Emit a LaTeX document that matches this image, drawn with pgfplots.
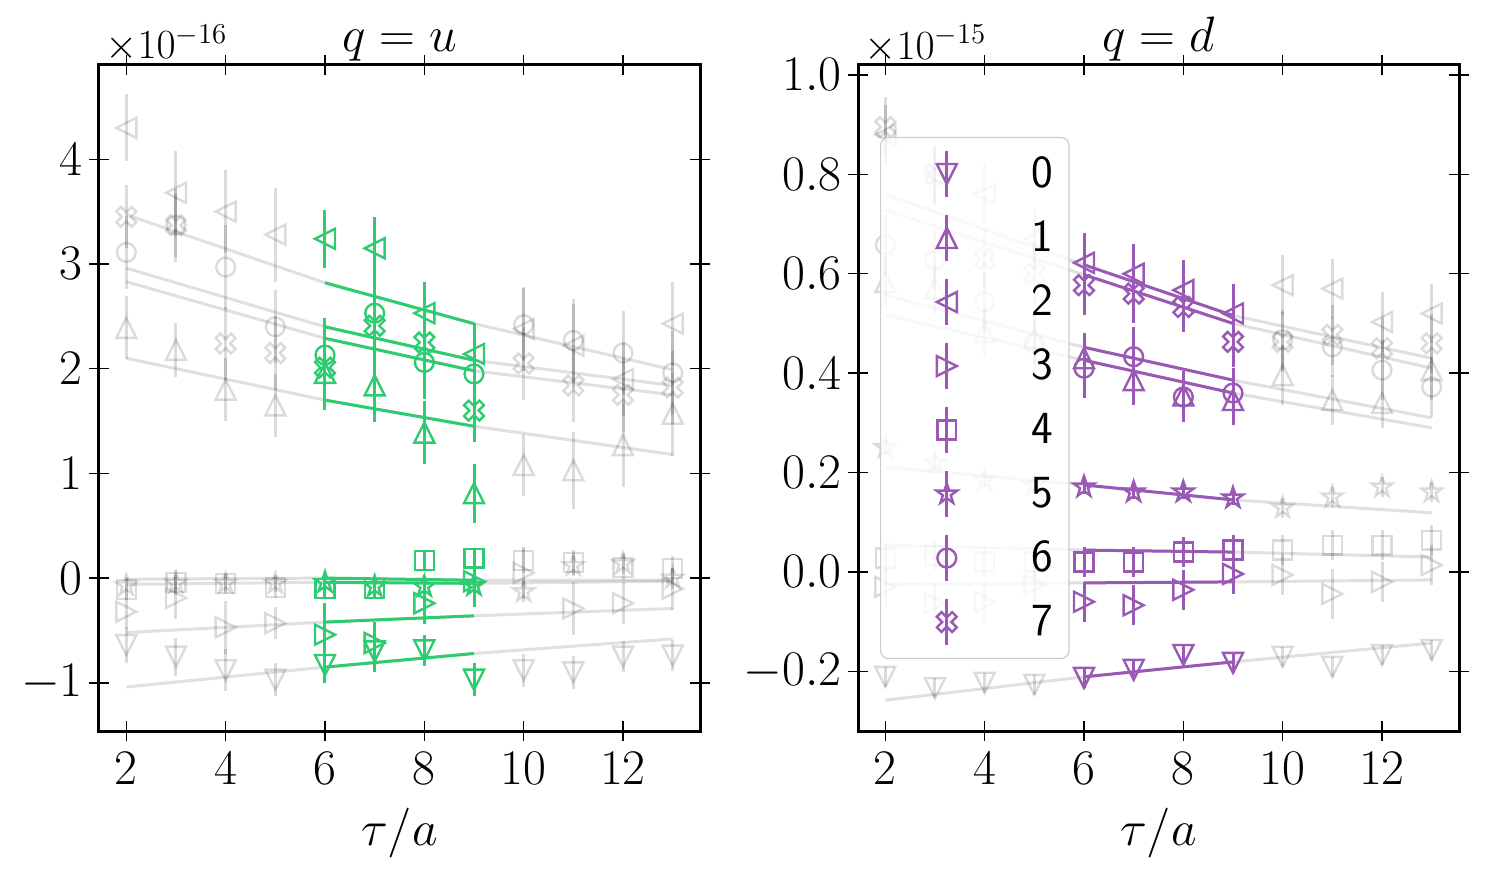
\documentclass[border=0pt]{standalone}
\usepackage{pgfplots}
\pgfplotsset{compat=1.18}
\definecolor{grn}{RGB}{46,204,113}
\definecolor{prp}{RGB}{155,89,182}
\pgfdeclareplotmark{tU}{\pgfpathmoveto{\pgfqpoint{0pt}{\pgfplotmarksize}}\pgfpathlineto{\pgfqpoint{-\pgfplotmarksize}{-\pgfplotmarksize}}\pgfpathlineto{\pgfqpoint{\pgfplotmarksize}{-\pgfplotmarksize}}\pgfpathclose\pgfusepathqstroke}
\pgfdeclareplotmark{tD}{\pgfpathmoveto{\pgfqpoint{0pt}{-\pgfplotmarksize}}\pgfpathlineto{\pgfqpoint{-\pgfplotmarksize}{\pgfplotmarksize}}\pgfpathlineto{\pgfqpoint{\pgfplotmarksize}{\pgfplotmarksize}}\pgfpathclose\pgfusepathqstroke}
\pgfdeclareplotmark{tL}{\pgfpathmoveto{\pgfqpoint{-\pgfplotmarksize}{0pt}}\pgfpathlineto{\pgfqpoint{\pgfplotmarksize}{\pgfplotmarksize}}\pgfpathlineto{\pgfqpoint{\pgfplotmarksize}{-\pgfplotmarksize}}\pgfpathclose\pgfusepathqstroke}
\pgfdeclareplotmark{tR}{\pgfpathmoveto{\pgfqpoint{\pgfplotmarksize}{0pt}}\pgfpathlineto{\pgfqpoint{-\pgfplotmarksize}{\pgfplotmarksize}}\pgfpathlineto{\pgfqpoint{-\pgfplotmarksize}{-\pgfplotmarksize}}\pgfpathclose\pgfusepathqstroke}
\pgfdeclareplotmark{Xo}{%
\pgfpathmoveto{\pgfqpoint{0pt}{0.424\pgfplotmarksize}}%
\pgfpathlineto{\pgfqpoint{-0.495\pgfplotmarksize}{0.919\pgfplotmarksize}}%
\pgfpathlineto{\pgfqpoint{-0.919\pgfplotmarksize}{0.495\pgfplotmarksize}}%
\pgfpathlineto{\pgfqpoint{-0.424\pgfplotmarksize}{0pt}}%
\pgfpathlineto{\pgfqpoint{-0.919\pgfplotmarksize}{-0.495\pgfplotmarksize}}%
\pgfpathlineto{\pgfqpoint{-0.495\pgfplotmarksize}{-0.919\pgfplotmarksize}}%
\pgfpathlineto{\pgfqpoint{0pt}{-0.424\pgfplotmarksize}}%
\pgfpathlineto{\pgfqpoint{0.495\pgfplotmarksize}{-0.919\pgfplotmarksize}}%
\pgfpathlineto{\pgfqpoint{0.919\pgfplotmarksize}{-0.495\pgfplotmarksize}}%
\pgfpathlineto{\pgfqpoint{0.424\pgfplotmarksize}{0pt}}%
\pgfpathlineto{\pgfqpoint{0.919\pgfplotmarksize}{0.495\pgfplotmarksize}}%
\pgfpathlineto{\pgfqpoint{0.495\pgfplotmarksize}{0.919\pgfplotmarksize}}%
\pgfpathclose\pgfusepathqstroke}
\pgfdeclareplotmark{St}{%
\pgfpathmoveto{\pgfqpoint{0pt}{\pgfplotmarksize}}%
\pgfpathlineto{\pgfqpoint{-0.2245\pgfplotmarksize}{0.309\pgfplotmarksize}}%
\pgfpathlineto{\pgfqpoint{-0.951\pgfplotmarksize}{0.309\pgfplotmarksize}}%
\pgfpathlineto{\pgfqpoint{-0.363\pgfplotmarksize}{-0.118\pgfplotmarksize}}%
\pgfpathlineto{\pgfqpoint{-0.588\pgfplotmarksize}{-0.809\pgfplotmarksize}}%
\pgfpathlineto{\pgfqpoint{0pt}{-0.382\pgfplotmarksize}}%
\pgfpathlineto{\pgfqpoint{0.588\pgfplotmarksize}{-0.809\pgfplotmarksize}}%
\pgfpathlineto{\pgfqpoint{0.363\pgfplotmarksize}{-0.118\pgfplotmarksize}}%
\pgfpathlineto{\pgfqpoint{0.951\pgfplotmarksize}{0.309\pgfplotmarksize}}%
\pgfpathlineto{\pgfqpoint{0.2245\pgfplotmarksize}{0.309\pgfplotmarksize}}%
\pgfpathclose\pgfusepathqstroke}
\newcommand{\bigf}{\fontsize{25}{29}\selectfont}
\newcommand{\labf}{\fontsize{26}{30}\selectfont}
\newcommand{\midf}{\fontsize{22.5}{26}\selectfont}
\newcommand{\titf}{\fontsize{27.5}{32}\selectfont}
\newcommand{\legf}{\fontsize{23}{27}\selectfont}
\pgfplotsset{
  base/.style={scale only axis, width=300.5pt, height=333pt, xmin=1.45, xmax=13.55,
    xtick={2,4,...,12}, tick align=center, major tick length=10pt,
    every tick/.style={line width=0.7pt, black},
    axis line style={line width=1.5pt},
    tick label style={font=\bigf, inner sep=0pt},
    xticklabel style={anchor=north, yshift=-5.5pt},
    yticklabel style={anchor=east, xshift=-3pt},
    scaled ticks=false, clip mode=individual},
  m0/.style={mark=tD, mark size=5pt}, m1/.style={mark=tU, mark size=5pt},
  m2/.style={mark=tL, mark size=5pt}, m3/.style={mark=tR, mark size=5pt},
  m4/.style={mark=square, mark size=4.7pt}, m5/.style={mark=St, mark size=5.4pt},
  m6/.style={mark=o, mark size=4.7pt}, m7/.style={mark=Xo, mark size=5.4pt},
  gpt/.style={forget plot, only marks, black, opacity=0.14, line width=1.2pt,
    error bars/y dir=both, error bars/y explicit, error bars/error mark=none,
    error bars/error bar style={line width=1.5pt, black, opacity=0.14}},
  gln/.style={forget plot, no marks, black, opacity=0.12, line width=1.5pt},
  cpt/.style={only marks, line width=1.2pt,
    error bars/y dir=both, error bars/y explicit, error bars/error mark=none,
    error bars/error bar style={line width=1.5pt}},
  cln/.style={forget plot, no marks, line width=1.5pt},
}
\begin{document}
\begin{tikzpicture}
\useasboundingbox (0,0) rectangle (742.5pt,437.5pt);
% ===================== LEFT: q = u =====================
\begin{axis}[base, at={(49.5pt,72pt)}, anchor=south west,
  ymin=-1.46, ymax=4.9, ytick={-1,0,1,2,3,4}]
% gray fit lines
\addplot[gln] coordinates {(2,-1.04) (6,-0.85) (9,-0.72) (13,-0.58)};
\addplot[gln] coordinates {(2,2.10) (6,1.70) (9,1.45) (13,1.18)};
\addplot[gln] coordinates {(2,3.47) (6,2.82) (9,2.43) (13,1.99)};
\addplot[gln] coordinates {(2,-0.52) (6,-0.42) (9,-0.36) (13,-0.29)};
\addplot[gln] coordinates {(2,-0.06) (6,-0.04) (9,-0.05) (13,-0.03)};
\addplot[gln] coordinates {(2,-0.01) (6,0.00) (9,-0.02) (13,-0.02)};
\addplot[gln] coordinates {(2,2.96) (6,2.40) (9,2.08) (13,1.84)};
\addplot[gln] coordinates {(2,2.83) (6,2.29) (9,1.98) (13,1.75)};
% gray points
\addplot[gpt,m0] coordinates {(2,-0.64)+-(0,0.17) (3,-0.75)+-(0,0.18) (4,-0.88)+-(0,0.2) (5,-0.97)+-(0,0.16) (10,-0.88)+-(0,0.16) (11,-0.90)+-(0,0.16) (12,-0.75)+-(0,0.15) (13,-0.74)+-(0,0.15)};
\addplot[gpt,m1] coordinates {(2,2.39)+-(0,0.3) (3,2.18)+-(0,0.26) (4,1.80)+-(0,0.3) (5,1.65)+-(0,0.3) (10,1.08)+-(0,0.3) (11,1.03)+-(0,0.37) (12,1.27)+-(0,0.4) (13,1.57)+-(0,0.4)};
\addplot[gpt,m2] coordinates {(2,4.30)+-(0,0.32) (3,3.68)+-(0,0.4) (4,3.50)+-(0,0.4) (5,3.28)+-(0,0.45) (10,2.38)+-(0,0.4) (11,2.22)+-(0,0.4) (12,1.90)+-(0,0.35) (13,2.43)+-(0,0.4)};
\addplot[gpt,m3] coordinates {(2,-0.32)+-(0,0.17) (3,-0.19)+-(0,0.2) (4,-0.47)+-(0,0.25) (5,-0.43)+-(0,0.15) (10,0.05)+-(0,0.25) (11,-0.29)+-(0,0.25) (12,-0.24)+-(0,0.2) (13,-0.10)+-(0,0.2)};
\addplot[gpt,m4] coordinates {(2,-0.11)+-(0,0.1) (3,-0.04)+-(0,0.12) (4,-0.05)+-(0,0.1) (5,-0.09)+-(0,0.1) (10,0.17)+-(0,0.12) (11,0.15)+-(0,0.12) (12,0.10)+-(0,0.12) (13,0.09)+-(0,0.12)};
\addplot[gpt,m5] coordinates {(2,-0.07)+-(0,0.08) (3,-0.05)+-(0,0.08) (4,-0.05)+-(0,0.08) (5,-0.05)+-(0,0.08) (10,-0.13)+-(0,0.1) (11,0.12)+-(0,0.1) (12,0.14)+-(0,0.1) (13,0.0)+-(0,0.1)};
\addplot[gpt,m6] coordinates {(2,3.11)+-(0,0.35) (3,3.37)+-(0,0.35) (4,2.97)+-(0,0.4) (5,2.40)+-(0,0.35) (10,2.42)+-(0,0.35) (11,2.27)+-(0,0.4) (12,2.15)+-(0,0.4) (13,1.96)+-(0,0.4)};
\addplot[gpt,m7] coordinates {(2,3.45)+-(0,0.3) (3,3.37)+-(0,0.3) (4,2.24)+-(0,0.35) (5,2.15)+-(0,0.35) (10,2.05)+-(0,0.35) (11,1.84)+-(0,0.35) (12,1.75)+-(0,0.35) (13,1.82)+-(0,0.35)};
% green fit lines
\addplot[cln,grn] coordinates {(6,-0.85) (9,-0.72)};
\addplot[cln,grn] coordinates {(6,1.70) (9,1.45)};
\addplot[cln,grn] coordinates {(6,2.82) (9,2.43)};
\addplot[cln,grn] coordinates {(6,-0.42) (9,-0.36)};
\addplot[cln,grn] coordinates {(6,-0.04) (9,-0.05)};
\addplot[cln,grn] coordinates {(6,0.00) (9,-0.02)};
\addplot[cln,grn] coordinates {(6,2.40) (9,2.08)};
\addplot[cln,grn] coordinates {(6,2.29) (9,1.98)};
% green points
\addplot[cpt,grn,m0] coordinates {(6,-0.83)+-(0,0.17) (7,-0.70)+-(0,0.2) (8,-0.69)+-(0,0.15) (9,-0.97)+-(0,0.16)};
\addplot[cpt,grn,m1] coordinates {(6,1.96)+-(0,0.35) (7,1.84)+-(0,0.35) (8,1.39)+-(0,0.3) (9,0.81)+-(0,0.28)};
\addplot[cpt,grn,m2] coordinates {(6,3.24)+-(0,0.28) (7,3.15)+-(0,0.3) (8,2.53)+-(0,0.3) (9,2.14)+-(0,0.3)};
\addplot[cpt,grn,m3] coordinates {(6,-0.54)+-(0,0.3) (7,-0.62)+-(0,0.2) (8,-0.24)+-(0,0.2) (9,-0.03)+-(0,0.25)};
\addplot[cpt,grn,m4] coordinates {(6,-0.10)+-(0,0.1) (7,-0.10)+-(0,0.1) (8,0.17)+-(0,0.1) (9,0.19)+-(0,0.1)};
\addplot[cpt,grn,m5] coordinates {(6,-0.04)+-(0,0.08) (7,-0.08)+-(0,0.08) (8,-0.08)+-(0,0.08) (9,-0.07)+-(0,0.08)};
\addplot[cpt,grn,m6] coordinates {(6,2.13)+-(0,0.35) (7,2.53)+-(0,0.45) (8,2.06)+-(0,0.35) (9,1.95)+-(0,0.4)};
\addplot[cpt,grn,m7] coordinates {(6,2.01)+-(0,0.3) (7,2.41)+-(0,0.4) (8,2.25)+-(0,0.3) (9,1.60)+-(0,0.3)};
\node[anchor=base west, font=\midf, inner sep=0pt] at (rel axis cs:0,1) [xshift=3pt, yshift=3pt] {$\times10^{-16}$};
\node[anchor=base, font=\titf, inner sep=0pt] at (rel axis cs:0.5,1) [yshift=6.5pt] {$q=u$};
\node[anchor=base, font=\labf, inner sep=0pt] at (rel axis cs:0.5,0) [yshift=-57pt] {$\tau/a$};
\end{axis}
% ===================== RIGHT: q = d =====================
\begin{axis}[base, at={(429pt,72pt)}, anchor=south west,
  ymin=-0.32, ymax=1.02, ytick={-0.2,0,0.2,0.4,0.6,0.8,1.0},
  yticklabel style={/pgf/number format/.cd, fixed, fixed zerofill, precision=1},
  legend style={at={(axis description cs:0.0366,0.892)}, anchor=north west,
    draw=black!20, line width=0.6pt, rounded corners=4pt, fill=white, fill opacity=0.8,
    text opacity=1, draw opacity=1, font=\sffamily\legf,
    inner xsep=0pt, inner ysep=6pt, row sep=7.5pt, nodes={inner sep=0pt}},
  legend image code/.code={
    \path (0pt,-11.8pt) (74pt,11.2pt);
    \draw[sharp corners,#1,mark=none,line width=1.5pt,opacity=1] (32.5pt,-11.8pt) -- (32.5pt,11.2pt);
    \draw[sharp corners,#1,only marks,line width=1.2pt,opacity=1] plot coordinates {(32.5pt,-0.3pt)};
  }]
\addplot[gln] coordinates {(2,-0.258) (6,-0.211) (9,-0.181) (13,-0.143)};
\addplot[gln] coordinates {(2,0.517) (6,0.426) (9,0.36) (13,0.29)};
\addplot[gln] coordinates {(2,0.76) (6,0.618) (9,0.516) (13,0.43)};
\addplot[gln] coordinates {(2,-0.026) (6,-0.022) (9,-0.02) (13,-0.016)};
\addplot[gln] coordinates {(2,0.054) (6,0.044) (9,0.04) (13,0.03)};
\addplot[gln] coordinates {(2,0.211) (6,0.175) (9,0.145) (13,0.119)};
\addplot[gln] coordinates {(2,0.557) (6,0.452) (9,0.386) (13,0.31)};
\addplot[gln] coordinates {(2,0.728) (6,0.598) (9,0.50) (13,0.41)};
\addplot[gpt,m0] coordinates {(2,-0.211)+-(0,0.02) (3,-0.234)+-(0,0.02) (4,-0.223)+-(0,0.02) (5,-0.227)+-(0,0.02) (10,-0.171)+-(0,0.02) (11,-0.191)+-(0,0.02) (12,-0.167)+-(0,0.02) (13,-0.157)+-(0,0.02)};
\addplot[gpt,m1] coordinates {(2,0.583)+-(0,0.05) (3,0.57)+-(0,0.05) (4,0.483)+-(0,0.05) (5,0.47)+-(0,0.05) (10,0.396)+-(0,0.06) (11,0.346)+-(0,0.05) (12,0.34)+-(0,0.05) (13,0.406)+-(0,0.06)};
\addplot[gpt,m2] coordinates {(2,0.88)+-(0,0.06) (3,0.80)+-(0,0.06) (4,0.76)+-(0,0.06) (5,0.67)+-(0,0.06) (10,0.577)+-(0,0.06) (11,0.57)+-(0,0.06) (12,0.503)+-(0,0.06) (13,0.52)+-(0,0.06)};
\addplot[gpt,m3] coordinates {(2,-0.03)+-(0,0.04) (3,-0.063)+-(0,0.04) (4,-0.06)+-(0,0.04) (5,-0.026)+-(0,0.04) (10,-0.006)+-(0,0.04) (11,-0.044)+-(0,0.05) (12,-0.02)+-(0,0.04) (13,0.014)+-(0,0.04)};
\addplot[gpt,m4] coordinates {(2,0.028)+-(0,0.03) (3,0.033)+-(0,0.03) (4,0.02)+-(0,0.03) (5,0.02)+-(0,0.03) (10,0.044)+-(0,0.03) (11,0.054)+-(0,0.03) (12,0.054)+-(0,0.03) (13,0.064)+-(0,0.03)};
\addplot[gpt,m5] coordinates {(2,0.25)+-(0,0.015) (3,0.22)+-(0,0.015) (4,0.185)+-(0,0.015) (5,0.175)+-(0,0.015) (10,0.129)+-(0,0.02) (11,0.151)+-(0,0.02) (12,0.171)+-(0,0.02) (13,0.161)+-(0,0.02)};
\addplot[gpt,m6] coordinates {(2,0.658)+-(0,0.06) (3,0.628)+-(0,0.06) (4,0.543)+-(0,0.06) (5,0.46)+-(0,0.06) (10,0.467)+-(0,0.06) (11,0.453)+-(0,0.06) (12,0.406)+-(0,0.06) (13,0.372)+-(0,0.06)};
\addplot[gpt,m7] coordinates {(2,0.895)+-(0,0.06) (3,0.80)+-(0,0.06) (4,0.63)+-(0,0.06) (5,0.60)+-(0,0.06) (10,0.463)+-(0,0.06) (11,0.477)+-(0,0.06) (12,0.45)+-(0,0.06) (13,0.46)+-(0,0.06)};
\addplot[cln,prp] coordinates {(6,-0.211) (9,-0.181)};
\addplot[cln,prp] coordinates {(6,0.426) (9,0.36)};
\addplot[cln,prp] coordinates {(6,0.618) (9,0.516)};
\addplot[cln,prp] coordinates {(6,-0.022) (9,-0.02)};
\addplot[cln,prp] coordinates {(6,0.044) (9,0.04)};
\addplot[cln,prp] coordinates {(6,0.175) (9,0.145)};
\addplot[cln,prp] coordinates {(6,0.452) (9,0.386)};
\addplot[cln,prp] coordinates {(6,0.598) (9,0.50)};
\addplot[cpt,prp,m0] coordinates {(6,-0.213)+-(0,0.02) (7,-0.197)+-(0,0.02) (8,-0.167)+-(0,0.02) (9,-0.183)+-(0,0.02)};
\addlegendentry{\makebox[19pt][l]{0}}
\addplot[cpt,prp,m1] coordinates {(6,0.43)+-(0,0.05) (7,0.386)+-(0,0.05) (8,0.355)+-(0,0.05) (9,0.346)+-(0,0.05)};
\addlegendentry{\makebox[19pt][l]{1}}
\addplot[cpt,prp,m2] coordinates {(6,0.622)+-(0,0.06) (7,0.60)+-(0,0.06) (8,0.567)+-(0,0.06) (9,0.52)+-(0,0.06)};
\addlegendentry{\makebox[19pt][l]{2}}
\addplot[cpt,prp,m3] coordinates {(6,-0.06)+-(0,0.04) (7,-0.067)+-(0,0.04) (8,-0.036)+-(0,0.04) (9,-0.004)+-(0,0.04)};
\addlegendentry{\makebox[19pt][l]{3}}
\addplot[cpt,prp,m4] coordinates {(6,0.02)+-(0,0.03) (7,0.02)+-(0,0.03) (8,0.04)+-(0,0.03) (9,0.044)+-(0,0.03)};
\addlegendentry{\makebox[19pt][l]{4}}
\addplot[cpt,prp,m5] coordinates {(6,0.171)+-(0,0.015) (7,0.161)+-(0,0.015) (8,0.161)+-(0,0.015) (9,0.149)+-(0,0.015)};
\addlegendentry{\makebox[19pt][l]{5}}
\addplot[cpt,prp,m6] coordinates {(6,0.41)+-(0,0.06) (7,0.433)+-(0,0.06) (8,0.352)+-(0,0.05) (9,0.36)+-(0,0.05)};
\addlegendentry{\makebox[19pt][l]{6}}
\addplot[cpt,prp,m7] coordinates {(6,0.577)+-(0,0.06) (7,0.56)+-(0,0.06) (8,0.533)+-(0,0.05) (9,0.463)+-(0,0.05)};
\addlegendentry{\makebox[19pt][l]{7}}
\node[anchor=base west, font=\midf, inner sep=0pt] at (rel axis cs:0,1) [xshift=3pt, yshift=3pt] {$\times10^{-15}$};
\node[anchor=base, font=\titf, inner sep=0pt] at (rel axis cs:0.5,1) [yshift=6.5pt] {$q=d$};
\node[anchor=base, font=\labf, inner sep=0pt] at (rel axis cs:0.5,0) [yshift=-57pt] {$\tau/a$};
\end{axis}
\end{tikzpicture}
\end{document}
